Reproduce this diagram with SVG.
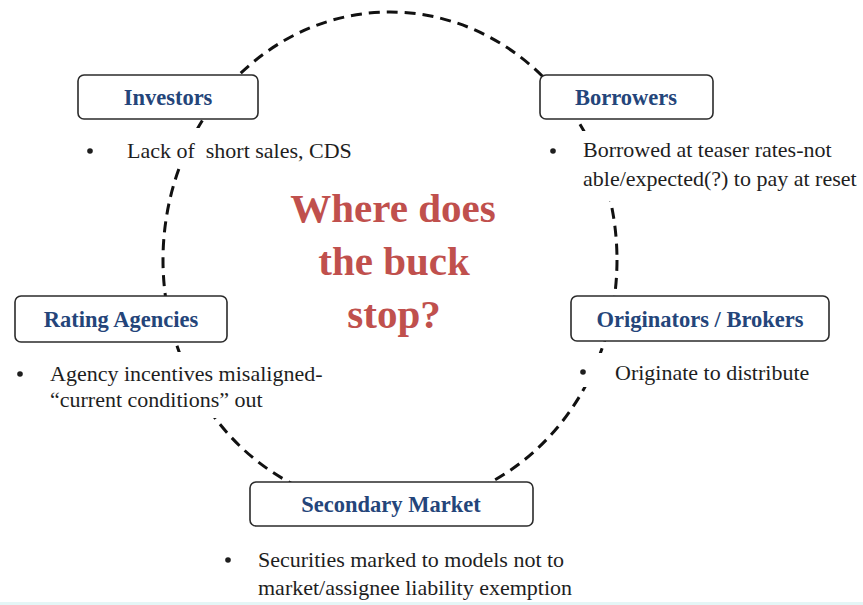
<svg xmlns="http://www.w3.org/2000/svg" width="863" height="605" viewBox="0 0 863 605">
  <defs>
    <style>
      .box { fill: #ffffff; stroke: #2b2b2b; stroke-width: 1.6; }
      .label { font-family: "Liberation Serif", "Times New Roman", serif; font-weight: bold; font-size: 22.5px; fill: #24457a; text-anchor: middle; }
      .note { font-family: "Liberation Serif", "Times New Roman", serif; font-size: 22px; fill: #1e1e1e; }
      .dot { fill: #1e1e1e; }
      .title { font-family: "Liberation Serif", "Times New Roman", serif; font-weight: bold; font-size: 41px; fill: #c0504d; text-anchor: middle; }
      .ring { fill: none; stroke: #111111; stroke-width: 3; stroke-dasharray: 11 7; }
      .mask { fill: #ffffff; }
    </style>
  </defs>

  <rect width="863" height="605" fill="#ffffff"/>
  <rect x="0" y="602" width="863" height="3" fill="#e4f6f6"/>

  <!-- dashed cycle linking the five parties -->
  <g id="connectors">
    <ellipse class="ring" cx="390" cy="260" rx="227" ry="248"/>
  </g>

  <!-- white bands behind the bullet text so the ring passes beneath it -->
  <g id="text-backgrounds">
    <rect class="mask" x="80" y="128" width="285" height="40"/>
    <rect class="mask" x="540" y="131" width="323" height="70"/>
    <rect class="mask" x="8" y="352" width="330" height="66"/>
    <rect class="mask" x="576" y="353" width="250" height="34"/>
  </g>

  <g id="title">
    <text class="title" x="393" y="222">Where does</text>
    <text class="title" x="394" y="275">the buck</text>
    <text class="title" x="394" y="328">stop?</text>
  </g>

  <g id="investors">
    <rect class="box" x="78" y="75" width="180" height="44" rx="6"/>
    <text class="label" x="168" y="105">Investors</text>
    <circle class="dot" cx="90" cy="151" r="2.8"/>
    <text class="note" x="127" y="158" xml:space="preserve">Lack of  short sales, CDS</text>
  </g>

  <g id="borrowers">
    <rect class="box" x="540" y="75" width="173" height="44" rx="6"/>
    <text class="label" x="626" y="105">Borrowers</text>
    <circle class="dot" cx="553" cy="151" r="2.8"/>
    <text class="note" x="583" y="157">Borrowed at teaser rates-not</text>
    <text class="note" x="583" y="186">able/expected(?) to pay at reset</text>
  </g>

  <g id="rating-agencies">
    <rect class="box" x="15" y="296" width="212" height="46" rx="6"/>
    <text class="label" x="121" y="327">Rating Agencies</text>
    <circle class="dot" cx="20" cy="374" r="2.8"/>
    <text class="note" x="50" y="381">Agency incentives misaligned-</text>
    <text class="note" x="50" y="407">“current conditions” out</text>
  </g>

  <g id="originators-brokers">
    <rect class="box" x="571" y="296" width="258" height="45" rx="6"/>
    <text class="label" x="700" y="327">Originators / Brokers</text>
    <circle class="dot" cx="583" cy="372" r="2.8"/>
    <text class="note" x="615" y="380">Originate to distribute</text>
  </g>

  <g id="secondary-market">
    <rect class="box" x="250" y="482" width="283" height="44" rx="6"/>
    <text class="label" x="391" y="512">Secondary Market</text>
    <circle class="dot" cx="228" cy="560" r="2.8"/>
    <text class="note" x="258" y="567">Securities marked to models not to</text>
    <text class="note" x="258" y="595">market/assignee liability exemption</text>
  </g>
</svg>
